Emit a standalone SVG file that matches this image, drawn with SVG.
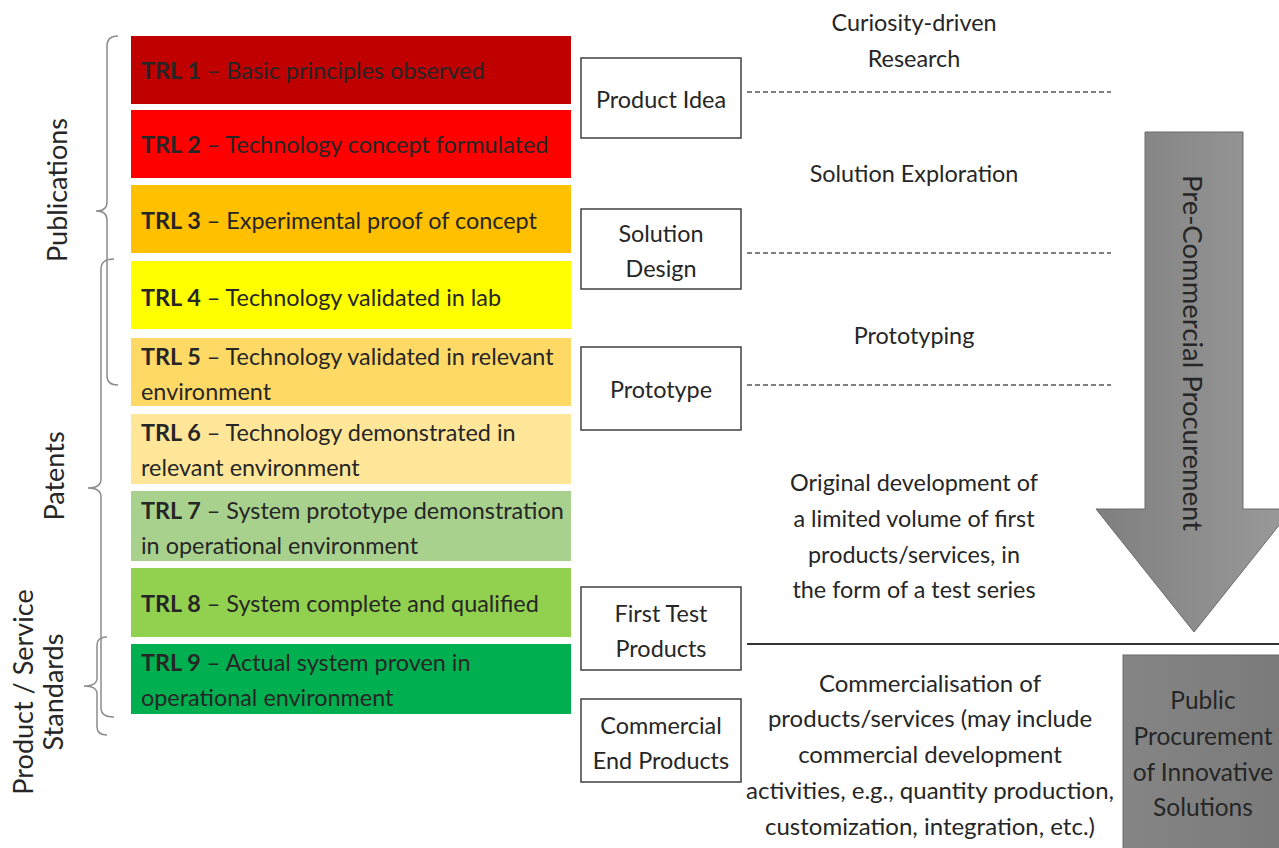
<svg xmlns="http://www.w3.org/2000/svg" width="1279" height="848" viewBox="0 0 1279 848">
<defs>
<style>
text{font-family:Lato,"Open Sans","Liberation Sans",sans-serif;fill:#262626;font-size:23.4px}
.c{text-anchor:middle}
.b{font-weight:bold}
.side{font-size:27px}
.big{font-size:24px}
.box{fill:#fff;stroke:#404040;stroke-width:1.5}
.brace{fill:none;stroke:#8c8c8c;stroke-width:1.5}
.dash{stroke:#555;stroke-width:1.3;stroke-dasharray:5,3;fill:none}
</style>
<linearGradient id="ga" x1="0" y1="0" x2="1" y2="0">
<stop offset="0" stop-color="#7f7f7f"/><stop offset="1" stop-color="#9a9a9a"/>
</linearGradient>
<linearGradient id="gb" x1="0" y1="0" x2="1" y2="0">
<stop offset="0" stop-color="#858585"/><stop offset="1" stop-color="#7a7a7a"/>
</linearGradient>
</defs>
<rect width="1279" height="848" fill="#fff"/>

<g id="trl1"><rect x="131" y="36" width="440" height="68" fill="#C00000"/><text x="141" y="79"><tspan class="b">TRL 1</tspan> – Basic principles observed</text></g>
<g id="trl2"><rect x="131" y="110" width="440" height="68" fill="#FF0000"/><text x="141" y="153"><tspan class="b">TRL 2</tspan> – Technology concept formulated</text></g>
<g id="trl3"><rect x="131" y="185" width="440" height="68" fill="#FFC000"/><text x="141" y="229"><tspan class="b">TRL 3</tspan> – Experimental proof of concept</text></g>
<g id="trl4"><rect x="131" y="261" width="440" height="68" fill="#FFFF00"/><text x="141" y="306"><tspan class="b">TRL 4</tspan> – Technology validated in lab</text></g>
<g id="trl5"><rect x="131" y="338" width="440" height="68" fill="#FFD966"/><text x="141" y="365"><tspan class="b">TRL 5</tspan> – Technology validated in relevant</text><text x="141" y="400">environment</text></g>
<g id="trl6"><rect x="131" y="414" width="440" height="70" fill="#FFE699"/><text x="141" y="441"><tspan class="b">TRL 6</tspan> – Technology demonstrated in</text><text x="141" y="476">relevant environment</text></g>
<g id="trl7"><rect x="131" y="491" width="440" height="70" fill="#A9D18E"/><text x="141" y="519"><tspan class="b">TRL 7</tspan> – System prototype demonstration</text><text x="141" y="554">in operational environment</text></g>
<g id="trl8"><rect x="131" y="568" width="440" height="69" fill="#92D050"/><text x="141" y="612"><tspan class="b">TRL 8</tspan> – System complete and qualified</text></g>
<g id="trl9"><rect x="131" y="644" width="440" height="70" fill="#00B050"/><text x="141" y="671"><tspan class="b">TRL 9</tspan> – Actual system proven in</text><text x="141" y="706">operational environment</text></g>

<g id="braces">
<path class="brace" d="M118,36 Q107,36 107,46 L107,202 Q107,211 96,211 Q107,211 107,220 L107,376 Q107,385 118,385"/>
<path class="brace" d="M114,259 Q101,259 101,269 L101,479 Q101,488 88,488 Q101,488 101,497 L101,708 Q101,717 114,717"/>
<path class="brace" d="M107,637 Q97,637 97,645 L97,678 Q97,686 84,686 Q97,686 97,694 L97,727 Q97,735 107,735"/>
</g>
<g id="lbl-publications"><text class="c side" transform="translate(67,190) rotate(-90)">Publications</text></g>
<g id="lbl-patents"><text class="c side" transform="translate(64,476) rotate(-90)">Patents</text></g>
<g id="lbl-standards"><text class="c side" transform="translate(33,692) rotate(-90)">Product / Service</text><text class="c side" transform="translate(63,692) rotate(-90)">Standards</text></g>

<g id="box-idea"><rect class="box" x="581" y="58" width="160" height="80"/><text class="c" x="661" y="108">Product Idea</text></g>
<g id="box-solution"><rect class="box" x="581" y="209" width="160" height="80"/><text class="c" x="661" y="242">Solution</text><text class="c" x="661" y="277">Design</text></g>
<g id="box-prototype"><rect class="box" x="581" y="347" width="160" height="83"/><text class="c" x="661" y="398">Prototype</text></g>
<g id="box-first"><rect class="box" x="581" y="587" width="160" height="83"/><text class="c" x="661" y="622">First Test</text><text class="c" x="661" y="657">Products</text></g>
<g id="box-commercial"><rect class="box" x="581" y="699" width="160" height="83"/><text class="c" x="661" y="734">Commercial</text><text class="c" x="661" y="769">End Products</text></g>

<g id="connectors">
<line class="dash" x1="747" y1="92" x2="1111" y2="92"/>
<line class="dash" x1="747" y1="253" x2="1111" y2="253"/>
<line class="dash" x1="747" y1="385" x2="1111" y2="385"/>
<line x1="747" y1="644" x2="1279" y2="644" stroke="#333" stroke-width="2"/>
</g>

<g id="phase-texts">
<text class="c" x="914" y="31">Curiosity-driven</text>
<text class="c" x="914" y="67">Research</text>
<text class="c" x="914" y="182">Solution Exploration</text>
<text class="c" x="914" y="344">Prototyping</text>
<text class="c" x="914" y="491">Original development of</text>
<text class="c" x="914" y="527">a limited volume of first</text>
<text class="c" x="914" y="563">products/services, in</text>
<text class="c" x="914" y="598">the form of a test series</text>
<text class="c big" x="930" y="692">Commercialisation of</text>
<text class="c big" x="930" y="727">products/services (may include</text>
<text class="c big" x="930" y="763">commercial development</text>
<text class="c big" x="930" y="799">activities, e.g., quantity production,</text>
<text class="c big" x="930" y="835">customization, integration, etc.)</text>
</g>

<g id="arrow-pcp">
<path d="M1145,132 L1243,132 L1243,509 L1292,509 L1194,632 L1096,509 L1145,509 Z" fill="url(#ga)" stroke="#6a6a6a" stroke-width="1"/>
<text class="c" style="font-size:27.5px" transform="translate(1183,353) rotate(90)">Pre-Commercial Procurement</text>
</g>

<g id="box-ppi">
<rect x="1123" y="655" width="160" height="200" fill="url(#gb)" stroke="#6a6a6a" stroke-width="1"/>
<text class="c" style="font-size:24.5px" x="1203" y="709">Public</text>
<text class="c" style="font-size:24.5px" x="1203" y="745">Procurement</text>
<text class="c" style="font-size:24.5px" x="1203" y="781">of Innovative</text>
<text class="c" style="font-size:24.5px" x="1203" y="816">Solutions</text>
</g>
</svg>
